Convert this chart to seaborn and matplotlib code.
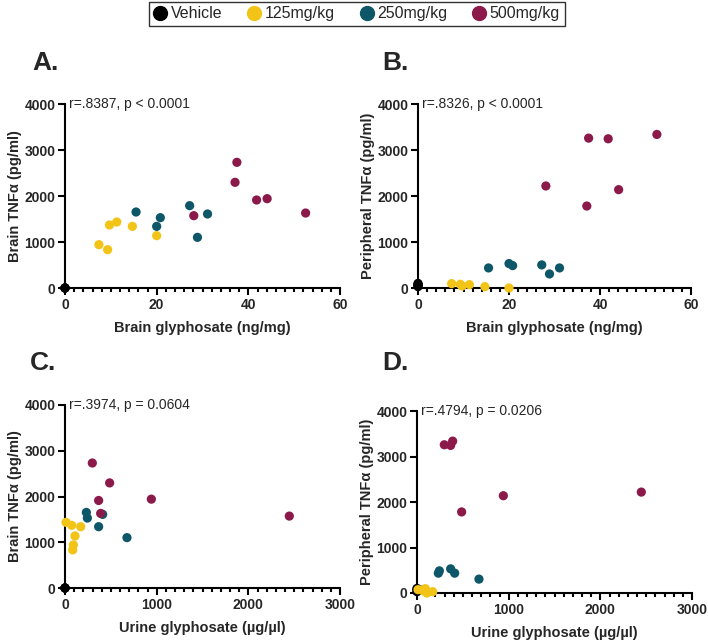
import numpy as np
import pandas as pd
import matplotlib
matplotlib.use("Agg")
import matplotlib.pyplot as plt
import seaborn as sns
from matplotlib.lines import Line2D
from matplotlib.ticker import MultipleLocator

sns.set_theme(style="white")
plt.rcParams['font.family'] = ['Liberation Sans', 'DejaVu Sans']

# ---------------- data (per animal) ----------------
groups = ["Vehicle", "125mg/kg", "250mg/kg", "500mg/kg"]
colors = ["#000000", "#F2C417", "#0D5769", "#8B1A4B"]

veh_brain_gly = [0, 0, 0, 0, 0]
veh_brain_tnf = [0, 0, np.nan, 0, 0]
veh_periph_tnf = [100, 30, 70, 50, 80]
veh_urine_gly = [0, 0, 70, 0, 0]

d125_brain_gly = [7.4, 9.3, 9.7, 11.3, 14.7, 20.0]
d125_brain_tnf = [942, 833, 1370, 1435, 1340, 1138]
d125_periph_tnf = [95, 80, 44, 73, 29, 0]
d125_urine_gly = [91, 84, 73, 11, 171, 109]

d250_brain_gly = [15.5, 20.0, 20.8, 27.2, 28.9, 31.1]
d250_brain_tnf = [1652, 1340, 1529, 1790, 1101, 1609]
d250_periph_tnf = [436, 531, 487, 502, 305, 436]
d250_urine_gly = [233, 367, 244, np.nan, 676, 411]

d500_brain_gly = [28.1, 37.1, 37.5, 41.8, 44.1, 52.5]
d500_brain_tnf = [1572, 2297, 2732, 1913, 1942, 1630]
d500_periph_tnf = [2218, 1782, 3258, 3244, 2138, 3338]
d500_urine_gly = [2447, 487, 298, 367, 942, 389]

stats = ["r=.8387, p < 0.0001", "r=.8326, p < 0.0001",
         "r=.3974, p = 0.0604", "r=.4794, p = 0.0206"]
panel_letters = ["A.", "B.", "C.", "D."]

rows = []
for g, bg, bt, pt, ug in [
    ("Vehicle", veh_brain_gly, veh_brain_tnf, veh_periph_tnf, veh_urine_gly),
    ("125mg/kg", d125_brain_gly, d125_brain_tnf, d125_periph_tnf, d125_urine_gly),
    ("250mg/kg", d250_brain_gly, d250_brain_tnf, d250_periph_tnf, d250_urine_gly),
    ("500mg/kg", d500_brain_gly, d500_brain_tnf, d500_periph_tnf, d500_urine_gly),
]:
    for i in range(len(bg)):
        rows.append({"group": g, "brain_gly": bg[i], "brain_tnf": bt[i],
                     "periph_tnf": pt[i], "urine_gly": ug[i]})
df = pd.DataFrame(rows)
palette = dict(zip(groups, colors))

# ---------------- figure ----------------
W, H = 708, 644
fig = plt.figure(figsize=(W / 100, H / 100), dpi=100)

def ax_px(l, r, t, b):
    return fig.add_axes([l / W, 1 - b / H, (r - l) / W, (b - t) / H])

axA = ax_px(65, 340, 104, 288)
axB = ax_px(418, 691, 104, 288)
axC = ax_px(65, 340, 405, 588)
axD = ax_px(417, 692, 411, 593)

specs = [
    (axA, "brain_gly", "brain_tnf", "Brain glyphosate (ng/mg)", "Brain TNFα (pg/ml)", 60, 20, 2),
    (axB, "brain_gly", "periph_tnf", "Brain glyphosate (ng/mg)", "Peripheral TNFα (pg/ml)", 60, 20, 2),
    (axC, "urine_gly", "brain_tnf", "Urine glyphosate (µg/µl)", "Brain TNFα (pg/ml)", 3000, 1000, 100),
    (axD, "urine_gly", "periph_tnf", "Urine glyphosate (µg/µl)", "Peripheral TNFα (pg/ml)", 3000, 1000, 100),
]

for k, (ax, xc, yc, xl, yl, xmax, xmaj, xmin) in enumerate(specs):
    sub = df.dropna(subset=[xc, yc])
    sns.scatterplot(data=sub, x=xc, y=yc, hue="group", hue_order=groups,
                    palette=palette, s=44, linewidth=0, ax=ax, legend=False,
                    clip_on=False, zorder=3)
    ax.set_xlim(0, xmax)
    ax.set_ylim(0, 4000)
    ax.xaxis.set_major_locator(MultipleLocator(xmaj))
    ax.xaxis.set_minor_locator(MultipleLocator(xmin))
    ax.yaxis.set_major_locator(MultipleLocator(1000))
    for s in ["top", "right"]:
        ax.spines[s].set_visible(False)
    for s in ["left", "bottom"]:
        ax.spines[s].set_linewidth(1.5)
        ax.spines[s].set_color("black")
    ax.tick_params(which="major", direction="out", length=5, width=1.5,
                   color="black", labelsize=10, pad=2, bottom=True, left=True)
    ax.tick_params(which="minor", direction="out", length=3, width=1.5,
                   color="black", bottom=True)
    for lab in ax.get_xticklabels() + ax.get_yticklabels():
        lab.set_fontweight("bold")
    ax.set_xlabel(xl, fontsize=10.5, fontweight="bold", labelpad=7)
    ax.set_ylabel(yl, fontsize=10.5, fontweight="bold", labelpad=1.5)
    ax.grid(False)
    ax.set_facecolor("white")
    ax.text(0.015, 1.0, stats[k], transform=ax.transAxes, fontsize=10,
            ha="left", va="center")

# panel letters (pixel positions, baseline)
for (x, y), t in zip([(32, 70), (382, 70), (30, 370), (382, 370)], panel_letters):
    fig.text(x / W, 1 - y / H, t, fontsize=19, fontweight="bold",
             ha="left", va="baseline")

# legend
handles = [Line2D([0], [0], marker="o", linestyle="none", markersize=10,
                  markerfacecolor=c, markeredgecolor=c) for c in colors]
leg = fig.legend(handles, groups, loc="upper center",
                 bbox_to_anchor=(357 / W, 1.0), ncol=4, fontsize=11.5,
                 frameon=True, fancybox=False, edgecolor="black",
                 handlelength=0.8, handletextpad=0.25, columnspacing=1.6,
                 borderpad=0.3, borderaxespad=0.1)
leg.get_frame().set_linewidth(1.0)

fig.savefig("out.png", dpi=100, facecolor="white")
